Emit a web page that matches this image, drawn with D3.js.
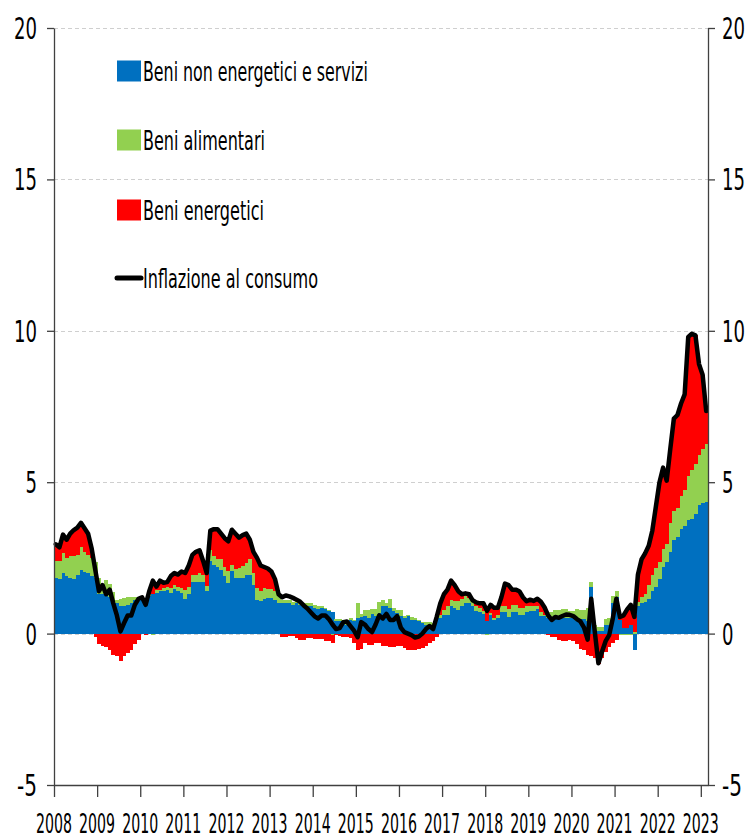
<!DOCTYPE html>
<html>
<head>
<meta charset="utf-8">
<script src="https://cdn.jsdelivr.net/npm/d3@7"></script>
<style>
  html, body { margin: 0; padding: 0; background: #ffffff; }
  svg { display: block; }
  text { font-family: "Liberation Sans Narrow", "DejaVu Sans Condensed", "Roboto Condensed", sans-serif; fill: #000; }
</style>
</head>
<body>
<svg id="chart" width="750" height="840"></svg>
<script>
// ---------------- DATA (monthly, Jan 2008 - Feb 2023) ----------------
const yearLabels = ["2008","2009","2010","2011","2012","2013","2014","2015","2016","2017","2018","2019","2020","2021","2022","2023"];
const yTicks = [-5, 0, 5, 10, 15, 20];
const seriesNames = ["Beni non energetici e servizi", "Beni alimentari", "Beni energetici", "Inflazione al consumo"];

// Inflazione al consumo (total)
const inflazione = [
  2.95, 2.85, 3.27, 3.1, 3.3, 3.42, 3.5, 3.66, 3.48, 3.3, 2.8, 2.1,
  1.4, 1.6, 1.3, 1.45, 1.0, 0.6, 0.07, 0.35, 0.6, 0.6, 0.95, 1.15,
  1.2, 0.95, 1.4, 1.75, 1.55, 1.75, 1.68, 1.7, 1.9, 2.0, 1.95, 2.05,
  2.0, 2.25, 2.6, 2.7, 2.75, 2.4, 2.0, 3.4, 3.45, 3.45, 3.3, 3.15,
  3.05, 3.43, 3.3, 3.17, 3.25, 3.3, 3.1, 2.7, 2.5, 2.25, 2.2, 2.15,
  2.05, 1.8, 1.3, 1.2, 1.26, 1.23, 1.18, 1.12, 1.05, 0.93, 0.83, 0.7,
  0.57, 0.5, 0.6, 0.6, 0.48, 0.3, 0.15, 0.18, 0.38, 0.4, 0.25, 0.1,
  -0.12, 0.38, 0.3, 0.15, 0.05, 0.3, 0.6, 0.5, 0.65, 0.45, 0.45, 0.58,
  0.2, 0.05, 0.0, -0.05, -0.13, -0.1, 0.0, 0.15, 0.25, 0.15, 0.55, 1.0,
  1.3, 1.45, 1.75, 1.6, 1.4, 1.3, 1.33, 1.3, 1.1, 1.03, 1.0, 1.0,
  0.75, 0.95, 0.85, 0.85, 1.2, 1.65, 1.6, 1.45, 1.45, 1.4, 1.2, 1.07,
  1.12, 1.08, 1.15, 1.05, 0.87, 0.6, 0.45, 0.55, 0.52, 0.58, 0.63, 0.62,
  0.58, 0.48, 0.4, 0.2, -0.2, 1.15, 0.05, -0.98, -0.6, -0.25, -0.05, 0.5,
  1.15, 0.55, 0.6, 0.8, 0.95, 0.55, 1.95, 2.45, 2.65, 2.9, 3.4, 4.2,
  5.0, 5.48, 5.05, 6.1, 7.1, 7.22, 7.6, 7.9, 9.8, 9.9, 9.85, 8.9,
  8.55, 7.35
];

// Beni non energetici e servizi (blue)
const beniNonEnergetici = [
  1.85, 1.8, 2.0, 1.9, 1.85, 1.8, 1.95, 2.1, 2.05, 2.0, 1.9, 1.85,
  1.3, 1.3, 1.28, 1.2, 1.1, 1.0, 0.92, 0.92, 0.95, 1.0, 1.1, 1.18,
  1.15, 0.95, 1.25, 1.3, 1.35, 1.4, 1.4, 1.45, 1.35, 1.46, 1.4, 1.35,
  1.15, 1.3, 1.7, 1.72, 1.7, 1.7, 1.4, 2.4, 2.28, 2.2, 2.1, 1.9,
  1.68, 2.06, 1.84, 1.84, 1.84, 1.95, 1.95, 1.6, 1.1, 1.07, 1.13, 1.18,
  1.18, 1.1, 1.02, 1.0, 1.0, 1.0, 0.95, 1.0, 0.95, 0.92, 0.92, 0.9,
  0.85, 0.8, 0.85, 0.8, 0.73, 0.7, 0.42, 0.42, 0.4, 0.3, 0.45, 0.4,
  0.5, 0.55, 0.57, 0.52, 0.65, 0.57, 0.68, 0.9, 0.9, 0.84, 0.73, 0.68,
  0.57, 0.52, 0.57, 0.46, 0.46, 0.4, 0.35, 0.3, 0.3, 0.24, 0.5, 0.52,
  0.63, 0.63, 0.9, 0.85, 0.79, 0.9, 1.0, 1.02, 0.9, 0.75, 0.7, 0.65,
  0.42, 0.6, 0.45, 0.5, 0.7, 0.7, 0.55, 0.7, 0.7, 0.6, 0.6, 0.7,
  0.75, 0.75, 0.8, 0.57, 0.57, 0.5, 0.5, 0.47, 0.47, 0.5, 0.5, 0.5,
  0.5, 0.42, 0.47, 0.47, 0.4, 1.55, 0.05, 0.1, 0.1, 0.3, 0.3, 1.0,
  1.2, 0.45, 0.2, 0.2, 0.3, -0.55, 0.9, 1.0, 1.05, 1.15, 1.4, 1.55,
  1.8, 2.2, 2.35, 2.7, 3.1, 3.2, 3.45, 3.55, 3.75, 3.8, 3.95, 4.25,
  4.3, 4.33
];

// Beni alimentari (green)
const beniAlimentari = [
  0.55, 0.6, 0.65, 0.6, 0.7, 0.75, 0.65, 0.75, 0.65, 0.6, 0.6, 0.5,
  0.55, 0.27, 0.5, 0.45, 0.26, 0.1, 0.23, 0.26, 0.25, 0.2, 0.1, 0.04,
  0.05, 0.05, 0.05, -0.05, 0.1, 0.05, 0.1, 0.1, 0.16, 0.14, 0.15, 0.15,
  0.3, 0.25, 0.25, 0.23, 0.3, 0.25, 0.17, 0.37, 0.27, 0.25, 0.35, 0.3,
  0.38, 0.22, 0.28, 0.31, 0.39, 0.39, 0.5, 0.4, 0.4, 0.33, 0.37, 0.28,
  0.28, 0.3, 0.28, 0.12, 0.12, 0.1, 0.1, 0.12, 0.12, 0.1, 0.08, 0.1,
  0.1, 0.1, 0.05, 0.05, 0.05, -0.05, 0.05, 0.05, 0.05, 0.1, 0.05, 0.05,
  0.5, 0.1, 0.2, 0.25, 0.15, 0.25, 0.35, 0.2, 0.1, 0.3, 0.1, 0.11,
  0.2, 0.05, 0.03, 0.1, 0.05, 0.05, 0.02, 0.07, 0.07, 0.1, 0.05, 0.1,
  0.16, 0.27, 0.22, 0.22, 0.28, 0.25, 0.23, 0.15, 0.15, 0.15, 0.15, 0.1,
  -0.05, 0.08, 0.08, 0.1, 0.2, 0.2, 0.25, 0.25, 0.25, 0.25, 0.25, 0.2,
  0.15, 0.15, 0.1, 0.13, 0.05, 0.2, 0.2, 0.3, 0.3, 0.3, 0.3, 0.25,
  0.25, 0.4, 0.3, 0.3, 0.45, 0.17, 0.25, 0.12, 0.12, 0.18, 0.22, 0.23,
  0.2, -0.05, -0.05, -0.05, -0.05, 0.05, 0.15, 0.2, 0.25, 0.45, 0.55, 0.6,
  0.55, 0.6, 0.6, 0.95, 0.95, 0.95, 1.1, 1.2, 1.45, 1.6, 1.65, 1.65,
  1.8, 1.92
];

// Beni energetici (red)
const beniEnergetici = [
  0.55, 0.45, 0.62, 0.6, 0.75, 0.87, 0.9, 0.81, 0.78, 0.7, 0.3, -0.1,
  -0.35, -0.4, -0.45, -0.55, -0.7, -0.75, -0.9, -0.75, -0.65, -0.55, -0.35, -0.2,
  0.0, -0.05, 0.1, 0.45, 0.1, 0.3, 0.18, 0.15, 0.39, 0.4, 0.4, 0.55,
  0.55, 0.7, 0.65, 0.75, 0.75, 0.45, 0.43, 0.63, 0.9, 1.0, 0.85, 0.95,
  0.99, 1.15, 1.18, 1.02, 1.02, 0.96, 0.65, 0.7, 1.0, 0.85, 0.7, 0.69,
  0.59, 0.4, 0.0, -0.1, -0.1, -0.07, -0.07, -0.14, -0.2, -0.2, -0.15, -0.15,
  -0.18, -0.18, -0.18, -0.25, -0.25, -0.25, -0.05, -0.07, -0.1, -0.1, -0.15, -0.3,
  -0.55, -0.5, -0.3, -0.36, -0.36, -0.3, -0.3, -0.4, -0.4, -0.44, -0.45, -0.4,
  -0.4, -0.47, -0.53, -0.53, -0.53, -0.5, -0.47, -0.4, -0.3, -0.25, -0.1, 0.38,
  0.51, 0.55, 0.63, 0.53, 0.33, 0.15, 0.1, 0.13, 0.05, 0.13, 0.15, 0.25,
  0.33, 0.27, 0.32, 0.25, 0.3, 0.75, 0.8, 0.5, 0.5, 0.55, 0.35, 0.17,
  0.22, 0.18, 0.25, 0.35, 0.25, -0.05, -0.1, -0.1, -0.2, -0.25, -0.25, -0.2,
  -0.25, -0.35, -0.5, -0.55, -0.7, -0.75, -0.8, -1.0, -0.8, -0.6, -0.45, -0.3,
  -0.2, 0.1, 0.45, 0.6, 0.65, 0.55, 0.9, 1.25, 1.35, 1.3, 1.45, 2.05,
  2.65, 2.68, 2.1, 2.45, 3.05, 3.07, 3.05, 3.15, 4.6, 4.5, 4.25, 3.0,
  2.45, 1.1
];

const colors = { core: "#0070C0", food: "#92D050", energy: "#FF0000", total: "#000000" };

// ---------------- BUILD ----------------
const N = inflazione.length;
const rows = d3.range(N).map(i => ({
  i,
  core: beniNonEnergetici[i],
  food: beniAlimentari[i],
  energy: beniEnergetici[i],
  total: inflazione[i]
}));

const svg = d3.select("#chart");
const plotLeft = 54, plotRight = 708, plotTop = 28, plotBottom = 785;

const x = d3.scaleBand().domain(d3.range(N)).range([plotLeft, plotRight]).paddingInner(0).paddingOuter(0);
const xl = d3.scaleLinear().domain([0, N]).range([plotLeft, plotRight]);
const y = d3.scaleLinear().domain([-5, 20]).range([plotBottom, plotTop]);

// gridlines
svg.append("g").selectAll("line").data(yTicks.filter(v => v > -5)).join("line")
  .attr("x1", plotLeft).attr("x2", plotRight)
  .attr("y1", d => Math.round(y(d)) + 0.5).attr("y2", d => Math.round(y(d)) + 0.5)
  .attr("stroke", "#cfcfcf").attr("stroke-width", 1).attr("stroke-dasharray", "4,3");

// stacked bars
const keys = ["core", "food", "energy"];
const stacked = d3.stack().keys(keys).offset(d3.stackOffsetDiverging)(rows);
const gBars = svg.append("g").attr("shape-rendering", "crispEdges");
stacked.forEach(layer => {
  gBars.append("g").attr("fill", colors[layer.key])
    .selectAll("rect").data(layer).join("rect")
    .attr("x", (d, i) => x(i))
    .attr("width", x.bandwidth() + 0.4)
    .attr("y", d => y(Math.max(d[0], d[1])))
    .attr("height", d => Math.abs(y(d[0]) - y(d[1])));
});

// total line
const line = d3.line().x(d => x(d.i) + x.bandwidth() / 2).y(d => y(d.total));
svg.append("path").datum(rows)
  .attr("d", line).attr("fill", "none")
  .attr("stroke", colors.total).attr("stroke-width", 4.5)
  .attr("stroke-linejoin", "round").attr("stroke-linecap", "round");

// axes
const axisColor = "#404040";
const yl = svg.append("g").attr("transform", `translate(${plotLeft},0)`)
  .call(d3.axisLeft(y).tickValues(yTicks).tickSize(7).tickSizeOuter(0).tickFormat(""));
const yr = svg.append("g").attr("transform", `translate(${plotRight},0)`)
  .call(d3.axisRight(y).tickValues(yTicks).tickSize(7).tickSizeOuter(0).tickFormat(""));
const xb = svg.append("g").attr("transform", `translate(0,${plotBottom})`)
  .call(d3.axisBottom(xl).tickValues(yearLabels.map((_, k) => k * 12)).tickSize(12).tickSizeOuter(0).tickFormat(""));
[yl, yr, xb].forEach(g => {
  g.selectAll("path, line").attr("stroke", axisColor).attr("stroke-width", 1.3);
});

// condensed text helper: scales the glyphs horizontally to a target width
function fitText(str, fontSize, xLeft, yBase, width) {
  const t = svg.append("text").attr("font-size", fontSize).attr("x", 0).attr("y", 0).text(str);
  const natural = t.node().getComputedTextLength() || width;
  const k = width / natural;
  t.attr("transform", `translate(${xLeft},${yBase}) scale(${k},1)`);
  return t;
}

// y tick labels (both sides)
function labelWidth(v) {
  const s = String(v);
  if (s.startsWith("-")) return 20;
  return s.length * 11.5;
}
yTicks.forEach(v => {
  const w = labelWidth(v);
  fitText(String(v), 30, 37 - w, y(v) + 11, w);
  fitText(String(v), 30, 722, y(v) + 11, w);
});

// year labels
yearLabels.forEach((lab, k) => {
  fitText(lab, 26, xl(k * 12) - 18, 833, 36);
});

// legend
const legend = [
  { name: seriesNames[0], type: "rect", color: colors.core, y: 60.5, tl: 225 },
  { name: seriesNames[1], type: "rect", color: colors.food, y: 129.5, tl: 122 },
  { name: seriesNames[2], type: "rect", color: colors.energy, y: 199.5, tl: 121 },
  { name: seriesNames[3], type: "line", color: colors.total, y: 267.5, tl: 175 }
];
legend.forEach(l => {
  if (l.type === "rect") {
    svg.append("rect").attr("x", 117).attr("y", l.y).attr("width", 24).attr("height", 21).attr("fill", l.color);
  } else {
    svg.append("line").attr("x1", 117).attr("x2", 141).attr("y1", l.y + 10.5).attr("y2", l.y + 10.5)
      .attr("stroke", l.color).attr("stroke-width", 5).attr("stroke-linecap", "round");
  }
  fitText(l.name, 26, 143, l.y + 20, l.tl);
});
</script>
</body>
</html>
